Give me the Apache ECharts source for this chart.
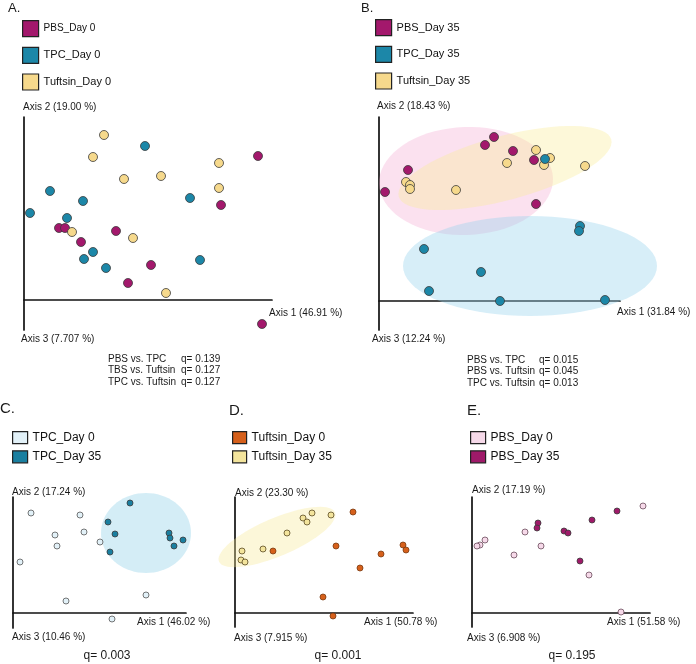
<!DOCTYPE html>
<html>
<head>
<meta charset="utf-8">
<script src="https://cdn.jsdelivr.net/npm/echarts@6/dist/echarts.min.js"></script>
<style>
html, body { margin: 0; padding: 0; background: #fff; }
#main { width: 696px; height: 664px; }
</style>
</head>
<body>
<div id="main"></div>
<script>
// PCoA scores (arbitrary units, axis origin = 0,0)
// A. day 0, all three groups
var aPBS = [[234,144],[197,95],[35,72],[41,72],[57,58],[92,69],[127,35],[104,17],[238,-24]];
var aTPC = [[121,154],[26,109],[59,99],[6,87],[43,82],[166,102],[69,48],[60,41],[82,32],[176,40]];
var aTuf = [[80,165],[69,143],[100,121],[137,124],[195,137],[195,112],[48,68],[109,62],[142,7]];

// B. day 35, all three groups
var bPBS = [[115,164],[106,156],[134,150],[155,141],[29,131],[6,109],[157,97]];
var bTPC = [[166,142],[201,75],[200,70],[45,52],[102,29],[50,10],[121,0],[226,1]];
var bTuf = [[157,151],[171,143],[165,136],[128,138],[206,135],[27,119],[31,116],[31,112],[77,111]];
// ellipses: [cx, cy, semi-axis a, semi-axis b, tilt deg]
var bEllPBS = [87,120,87,54,2];
var bEllTuf = [126,133,110,32,15];
var bEllTPC = [151,35,127,50,0];

// C. TPC day 0 vs day 35
var cDay0 = [[18,100],[67,98],[71,81],[42,78],[44,67],[87,71],[7,51],[53,12],[133,18],[99,-6]];
var cDay35 = [[117,110],[95,91],[102,79],[97,61],[156,80],[157,75],[170,73],[161,67]];
var cEll = [133,80,45,40,0];

// D. Tuftsin day 0 vs day 35
var dDay0 = [[118,101],[38,62],[101,67],[146,59],[168,68],[171,63],[125,45],[88,16],[98,-3]];
var dDay35 = [[77,100],[68,95],[72,91],[96,98],[52,80],[28,64],[7,62],[6,53],[10,51]];
var dEll = [42,76,63,19,23];

// E. PBS day 0 vs day 35
var eDay0 = [[171,107],[53,81],[69,67],[42,58],[13,73],[8,68],[5,67],[117,38],[149,1]];
var eDay35 = [[145,102],[120,93],[66,90],[65,85],[92,82],[96,80],[108,52]];

var axisNames = {
  A: ['Axis 1 (46.91 %)', 'Axis 2 (19.00 %)', 'Axis 3 (7.707 %)'],
  B: ['Axis 1 (31.84 %)', 'Axis 2 (18.43 %)', 'Axis 3 (12.24 %)'],
  C: ['Axis 1 (46.02 %)', 'Axis 2 (17.24 %)', 'Axis 3 (10.46 %)'],
  D: ['Axis 1 (50.78 %)', 'Axis 2 (23.30 %)', 'Axis 3 (7.915 %)'],
  E: ['Axis 1 (51.58 %)', 'Axis 2 (17.19 %)', 'Axis 3 (6.908 %)']
};
var statsA = [['PBS vs. TPC', 'q= 0.139'], ['TBS vs. Tuftsin', 'q= 0.127'], ['TPC vs. Tuftsin', 'q= 0.127']];
var statsB = [['PBS vs. TPC', 'q= 0.015'], ['PBS vs. Tuftsin', 'q= 0.045'], ['TPC vs. Tuftsin', 'q= 0.013']];
var qC = 'q= 0.003', qD = 'q= 0.001', qE = 'q= 0.195';

var FONT = '"Liberation Sans", Arial, sans-serif';
var MAG = '#a3186c', BLU = '#1c87a8', YEL = '#f6d98c', ORA = '#d6601b';
var LBLU = '#e2f1f8', DBLU = '#1a7fa0', LYEL = '#f3e49c', LPNK = '#f6d9e9', DMAG = '#9f1a69';

// grid boxes: [left, top, width, height, yMin]
var boxes = [
  [24, 117, 248, 213, -30],
  [379, 117, 241, 213, -29],
  [13, 497, 173, 131, -15],
  [235, 497, 178, 130, -14],
  [472, 497, 178, 130, -14]
];

var grids = [], xAxes = [], yAxes = [];
boxes.forEach(function (b, i) {
  grids.push({left: b[0], top: b[1], width: b[2], height: b[3]});
  var line = {show: true, onZero: true, lineStyle: {color: '#111', width: 1.7}};
  xAxes.push({type: 'value', gridIndex: i, min: 0, max: b[2], axisLine: line,
    axisTick: {show: false}, axisLabel: {show: false}, splitLine: {show: false}});
  yAxes.push({type: 'value', gridIndex: i, min: b[4], max: b[3] + b[4], axisLine: line,
    axisTick: {show: false}, axisLabel: {show: false}, splitLine: {show: false}});
});

function scat(name, data, gi, color, size, border) {
  return {
    type: 'scatter', name: name, xAxisIndex: gi, yAxisIndex: gi, data: data,
    symbolSize: size, z: 3, silent: true,
    itemStyle: {color: color, borderColor: border || '#3b3b3b', borderWidth: 0.8, opacity: 1}
  };
}

function ellipse(ell, gi, fill) {
  return {
    type: 'custom', xAxisIndex: gi, yAxisIndex: gi, data: [ell], z: 1, silent: true,
    encode: {x: 0, y: 1},
    renderItem: function (params, api) {
      var cx = api.value(0), cy = api.value(1), a = api.value(2), b = api.value(3);
      var t = api.value(4) * Math.PI / 180;
      var pts = [];
      for (var k = 0; k < 72; k++) {
        var u = k / 72 * Math.PI * 2;
        var x = cx + a * Math.cos(u) * Math.cos(t) - b * Math.sin(u) * Math.sin(t);
        var y = cy + a * Math.cos(u) * Math.sin(t) + b * Math.sin(u) * Math.cos(t);
        pts.push(api.coord([x, y]));
      }
      return {type: 'polygon', shape: {points: pts}, style: {fill: fill}};
    }
  };
}

function leg(left, top, items, iw, ih, gap, fs) {
  return {
    left: left, top: top, orient: 'vertical', icon: 'rect', selectedMode: false,
    itemWidth: iw, itemHeight: ih, itemGap: gap, padding: 0,
    textStyle: {fontSize: fs, color: '#111', fontFamily: FONT},
    itemStyle: {borderColor: '#222', borderWidth: 1.2},
    data: items.map(function (it) {
      var d = {name: it[0], itemStyle: {color: it[1], borderColor: '#222', borderWidth: 1.2}};
      if (it[2]) d.textStyle = {fontSize: it[2]};
      return d;
    })
  };
}

function txt(x, y, s, fs, align) {
  return {type: 'text', x: x, y: y, silent: true,
    style: {text: s, fontSize: fs, fontFamily: FONT, fill: '#1a1a1a',
      textAlign: align || 'left', textVerticalAlign: 'middle'}};
}

var g = [];
g.push(txt(8, 8, 'A.', 13), txt(361, 8, 'B.', 13));
g.push(txt(0, 409, 'C.', 15), txt(229, 411, 'D.', 15), txt(467, 411, 'E.', 15));
// axis captions
var capPos = {
  A: [[269, 313], [23, 107], [21, 339]],
  B: [[617, 312], [377, 106], [372, 339]],
  C: [[137, 622], [12, 492], [12, 637]],
  D: [[364, 622], [235, 493], [234, 638]],
  E: [[607, 622], [472, 490], [467, 638]]
};
Object.keys(capPos).forEach(function (k) {
  capPos[k].forEach(function (p, j) { g.push(txt(p[0], p[1], axisNames[k][j], 10)); });
});
statsA.forEach(function (r, j) { g.push(txt(108, 359 + j * 11.5, r[0], 10), txt(181, 359 + j * 11.5, r[1], 10)); });
statsB.forEach(function (r, j) { g.push(txt(467, 360 + j * 11.5, r[0], 10), txt(539, 360 + j * 11.5, r[1], 10)); });
g.push(txt(107, 656, qC, 12, 'center'), txt(338, 656, qD, 12, 'center'), txt(572, 656, qE, 12, 'center'));

var option = {
  animation: false,
  backgroundColor: '#fff',
  grid: grids,
  xAxis: xAxes,
  yAxis: yAxes,
  legend: [
    leg(22, 20, [['PBS_Day 0', MAG, 10], ['TPC_Day 0', BLU], ['Tuftsin_Day 0', YEL]], 16, 16, 9.5, 11),
    leg(375, 19, [['PBS_Day 35', MAG], ['TPC_Day 35', BLU], ['Tuftsin_Day 35', YEL]], 16, 16, 9.5, 11),
    leg(12, 431, [['TPC_Day 0', LBLU], ['TPC_Day 35', DBLU]], 15, 12, 6, 12),
    leg(232, 431, [['Tuftsin_Day 0', ORA], ['Tuftsin_Day 35', LYEL]], 14, 12, 6, 12),
    leg(470, 431, [['PBS_Day 0', LPNK], ['PBS_Day 35', DMAG]], 15, 12, 6, 12)
  ],
  graphic: g,
  series: [
    scat('PBS_Day 0', aPBS, 0, MAG, 9),
    scat('TPC_Day 0', aTPC, 0, BLU, 9),
    scat('Tuftsin_Day 0', aTuf, 0, YEL, 9),

    ellipse(bEllPBS, 1, 'rgba(243,168,208,0.34)'),
    ellipse(bEllTuf, 1, 'rgba(250,236,150,0.36)'),
    ellipse(bEllTPC, 1, 'rgba(150,210,236,0.38)'),
    scat('PBS_Day 35', bPBS, 1, MAG, 9),
    scat('Tuftsin_Day 35', bTuf, 1, YEL, 9),
    scat('TPC_Day 35', bTPC, 1, BLU, 9),

    ellipse(cEll, 2, 'rgba(160,214,236,0.45)'),
    scat('TPC_Day 0', cDay0, 2, LBLU, 6, '#555'),
    scat('TPC_Day 35', cDay35, 2, DBLU, 6),

    ellipse(dEll, 3, 'rgba(246,232,150,0.36)'),
    scat('Tuftsin_Day 35', dDay35, 3, LYEL, 6, '#5a4a22'),
    scat('Tuftsin_Day 0', dDay0, 3, ORA, 6, '#7a3a10'),

    scat('PBS_Day 0', eDay0, 4, LPNK, 6, '#6a4a5a'),
    scat('PBS_Day 35', eDay35, 4, DMAG, 6)
  ]
};

var chart = echarts.init(document.getElementById('main'));
chart.setOption(option);
</script>
</body>
</html>
